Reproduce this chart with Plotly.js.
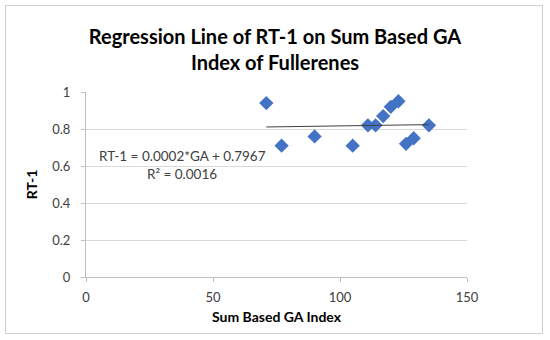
<!DOCTYPE html>
<html>
<head>
<meta charset="utf-8">
<script src="https://cdn.plot.ly/plotly-3.0.1.min.js"></script>
<style>
html,body{margin:0;padding:0;background:#fff;}
#wrap{position:relative;width:550px;height:340px;}
#frame{position:absolute;left:5px;top:5px;width:536px;height:327px;border:1px solid #d0d0d0;pointer-events:none;}
#chart{position:absolute;left:0;top:0;width:550px;height:340px;}
</style>
</head>
<body>
<div id="wrap"><div id="chart"></div><div id="frame"></div></div>
<script>
const gaIndex = [71, 77, 90, 105, 111, 114, 117, 120, 123, 126, 129, 135];
const rt1 = [0.94, 0.71, 0.76, 0.71, 0.82, 0.82, 0.87, 0.92, 0.95, 0.72, 0.75, 0.82];
const slope = 0.0002;
const intercept = 0.7967;
const xTicks = [0, 50, 100, 150];
const yTicks = [0, 0.2, 0.4, 0.6, 0.8, 1];
const yTickLabels = ['0', '0.2', '0.4', '0.6', '0.8', '1'];

const xMin = Math.min(...gaIndex), xMax = Math.max(...gaIndex);
const trendX = [xMin, xMax];
const trendY = trendX.map(v => slope * v + intercept);

const FONT = 'Lato, "Open Sans", sans-serif';

const data = [
  {x: gaIndex, y: rt1, type: 'scatter', mode: 'markers',
   marker: {symbol: 'diamond', size: 11, color: '#4472C4'}, hoverinfo: 'x+y'},
  {x: trendX, y: trendY, type: 'scatter', mode: 'lines',
   line: {color: '#404040', width: 1}, hoverinfo: 'skip'}
];

const layout = {
  width: 550, height: 340,
  margin: {l: 86, r: 83, t: 92, b: 63},
  paper_bgcolor: 'rgba(0,0,0,0)', plot_bgcolor: 'rgba(0,0,0,0)',
  showlegend: false,
  font: {family: FONT, color: '#404040', size: 12},
  title: {text: '<b>Regression Line of RT-1 on Sum Based GA<br>Index of Fullerenes</b>',
          font: {family: FONT, size: 20, color: '#000'}, x: 0.5, xanchor: 'center', y: 0.872, yanchor: 'middle'},
  xaxis: {range: [0, 150], tickvals: xTicks, ticktext: xTicks.map(String), showgrid: false, zeroline: false,
          showline: true, linecolor: '#bfbfbf', linewidth: 1, ticks: 'outside', ticklen: 4, tickcolor: '#bfbfbf',
          ticklabelstandoff: 4,
          tickfont: {size: 13, color: '#404040'},
          title: {text: '<b>Sum Based GA Index</b>', font: {size: 14, color: '#000'}, standoff: 8}},
  yaxis: {range: [0, 1], tickvals: yTicks, ticktext: yTickLabels, showgrid: true, gridcolor: '#d9d9d9',
          zeroline: false, showline: true, linecolor: '#bfbfbf', linewidth: 1, ticks: 'outside', ticklen: 4,
          tickcolor: '#bfbfbf', ticklabelstandoff: 8, tickfont: {size: 13, color: '#404040'},
          title: {text: '<b>RT-1</b>', font: {size: 14, color: '#000'}, standoff: 11}},
  annotations: [
    {text: 'RT-1 = 0.0002*GA + 0.7967', xref: 'paper', yref: 'paper',
     x: (97 - 86) / 381, y: (277 - 156) / 185, xanchor: 'left', yanchor: 'middle',
     showarrow: false, font: {size: 13.5, color: '#404040'}},
    {text: 'R² = 0.0016', xref: 'paper', yref: 'paper',
     x: (145 - 86) / 381, y: (277 - 174) / 185, xanchor: 'left', yanchor: 'middle',
     showarrow: false, font: {size: 13.5, color: '#404040'}}
  ]
};

Plotly.newPlot('chart', data, layout, {displayModeBar: false, staticPlot: true});
</script>
</body>
</html>
